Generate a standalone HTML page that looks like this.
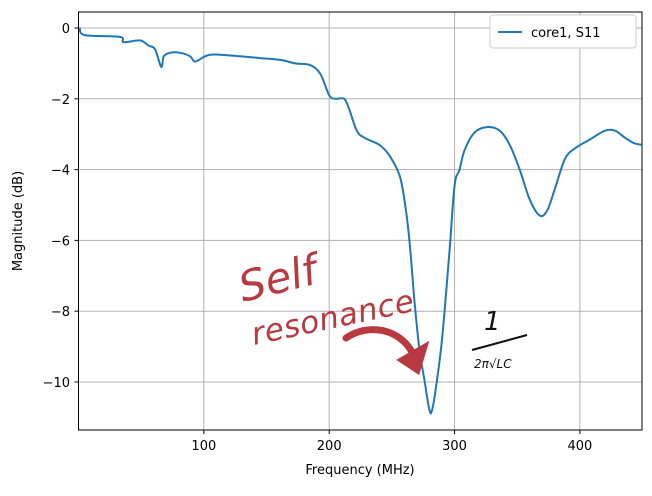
<!DOCTYPE html>
<html><head><meta charset="utf-8"><style>
body{margin:0;background:#fff;}
svg text{font-family:"DejaVu Sans","Liberation Sans",sans-serif;}
</style></head><body>
<svg id="chart" width="652" height="491" xmlns="http://www.w3.org/2000/svg">
<rect width="652" height="491" fill="#fff"/>
<g id="grid"></g>
<g id="axes"></g>
<path id="series" fill="none" stroke="#1f77b4" stroke-width="2"/>
<rect x="78.5" y="12" width="563.5" height="418" fill="none" stroke="#000" stroke-width="1"/>
<g>
<rect x="490" y="15" width="146" height="33" rx="3" fill="#fff" stroke="#ccc"/>
<line x1="498" y1="32" x2="522" y2="32" stroke="#1f77b4" stroke-width="2"/>
<text x="531" y="37" font-size="13" fill="#000">core1, S11</text>
</g>
<text x="360" y="474" font-size="13" text-anchor="middle">Frequency (MHz)</text>
<text transform="translate(22,221) rotate(-90)" font-size="13" text-anchor="middle">Magnitude (dB)</text>
<g fill="#b83a40">
<text transform="translate(243,302) rotate(-14)" font-size="42" font-style="italic" font-family="DejaVu Serif, serif">Self</text>
<text transform="translate(254,345) rotate(-12)" font-size="31" font-style="italic" font-family="DejaVu Serif, serif" textLength="165">resonance</text>
<path d="M346,338 C370,322 400,330 412,352" stroke="#b83a40" stroke-width="7" fill="none" stroke-linecap="round"/>
<path d="M400,360 L418,372 L426,345 Z" stroke="#b83a40" stroke-width="4"/>
</g>
<g fill="#111">
<text x="484" y="330" font-size="26" font-style="italic" font-family="DejaVu Serif, serif">1</text>
<line x1="472" y1="350" x2="527" y2="335" stroke="#111" stroke-width="2"/>
<text x="474" y="368" font-size="12" font-style="italic">2π√LC</text>
</g>
</svg>
<script>
const freqs=[1,5,33,36,49,56,61,66,68,73,81,89,93,101,109,129,145,161,173,185,193,200,205,212,216,222,228,240,248,256,260,264,268,272,276,280,282,285,290,296,300,304,308,316,326,336,344,352,360,368,374,380,388,396,408,420,428,436,443,449];
const mags=[0,-0.2,-0.25,-0.4,-0.35,-0.5,-0.6,-1.1,-0.8,-0.7,-0.7,-0.8,-0.95,-0.8,-0.75,-0.8,-0.85,-0.9,-1.0,-1.05,-1.3,-1.9,-2.0,-2.0,-2.3,-2.9,-3.1,-3.3,-3.6,-4.15,-4.85,-6.0,-7.7,-9.1,-9.95,-10.8,-10.8,-10.2,-8.8,-6.3,-4.45,-4.0,-3.45,-2.95,-2.8,-2.9,-3.3,-4.0,-4.85,-5.3,-5.15,-4.55,-3.7,-3.4,-3.15,-2.9,-2.9,-3.1,-3.25,-3.3];
const xTicks=[100,200,300,400];
const yTicks=[0,-2,-4,-6,-8,-10];
const NS="http://www.w3.org/2000/svg";
const X=v=>78.5+(v-0)*1.2535;
const Y=v=>28-v*35.4;
const grid=document.getElementById('grid'),axes=document.getElementById('axes');
function mk(t,a,p){const e=document.createElementNS(NS,t);for(const k in a)e.setAttribute(k,a[k]);p.appendChild(e);return e;}
xTicks.forEach(t=>{
 const g=mk('line',{x1:X(t),x2:X(t),y1:12,y2:430,stroke:'#b0b0b0','stroke-width':1},grid);
 
 
 mk('line',{x1:X(t),x2:X(t),y1:430,y2:434,stroke:'#000'},axes);
 const l=mk('text',{x:X(t),y:450,'font-size':13,'text-anchor':'middle'},axes);l.textContent=t;
 
 
});
yTicks.forEach(t=>{
 const g=mk('line',{x1:78.5,x2:642,y1:Y(t),y2:Y(t),stroke:'#b0b0b0','stroke-width':1},grid);
 
 
 mk('line',{x1:74.5,x2:78.5,y1:Y(t),y2:Y(t),stroke:'#000'},axes);
 const l=mk('text',{x:70,y:Y(t)+5,'font-size':13,'text-anchor':'end'},axes);l.textContent=(t<0?'−'+(-t):t);
 
 
});
const P=freqs.map((f,i)=>[X(f),Y(mags[i])]);
let d='M'+P[0][0].toFixed(1)+','+P[0][1].toFixed(1);
for(let i=0;i<P.length-1;i++){
 const p0=P[Math.max(0,i-1)],p1=P[i],p2=P[i+1],p3=P[Math.min(P.length-1,i+2)];
 const c1=[p1[0]+(p2[0]-p0[0])/6,p1[1]+(p2[1]-p0[1])/6];
 const c2=[p2[0]-(p3[0]-p1[0])/6,p2[1]-(p3[1]-p1[1])/6];
 d+='C'+c1.map(v=>v.toFixed(1))+' '+c2.map(v=>v.toFixed(1))+' '+p2.map(v=>v.toFixed(1));
}
document.getElementById('series').setAttribute('d',d);
</script>
</body></html>
